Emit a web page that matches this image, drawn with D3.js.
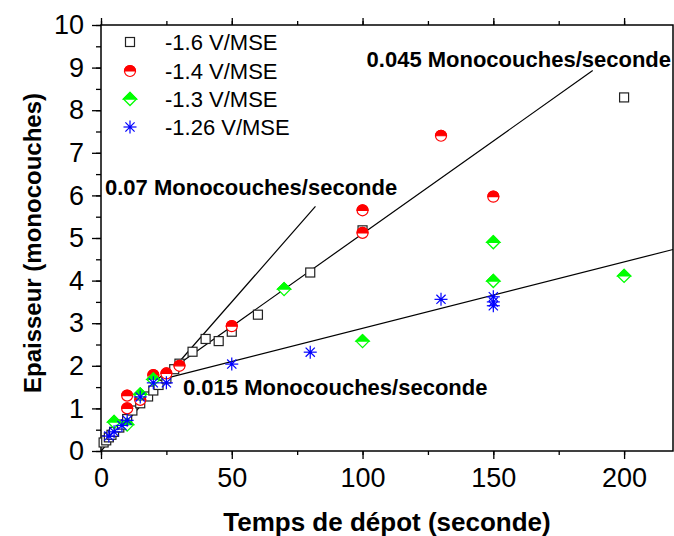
<!DOCTYPE html>
<html><head><meta charset="utf-8">
<script src="https://cdn.jsdelivr.net/npm/d3@7"></script>
<style>
html,body{margin:0;padding:0;background:#fff;}
svg{display:block;font-family:"Liberation Sans",Arial,sans-serif;}
</style></head>
<body>
<svg id="chart" width="674" height="536"></svg>
<script>
// ---- data ----
const xTicks = [0, 50, 100, 150, 200];
const yTicks = [0,1,2,3,4,5,6,7,8,9,10];

const s16x = [1, 2, 3, 4, 5, 7, 8, 10, 12, 15, 18, 20, 22, 25, 28, 30, 35, 40, 45, 50, 60, 80, 100, 200];
const s16y = [0.2, 0.25, 0.32, 0.38, 0.45, 0.55, 0.62, 0.75, 0.95, 1.12, 1.28, 1.42, 1.55, 1.7, 1.92, 2.05, 2.33, 2.63, 2.58, 2.8, 3.2, 4.19, 5.18, 8.3];

const s14x = [10, 10, 15, 20, 25, 30, 50, 100, 100, 130, 150];
const s14y = [1.0, 1.3, 1.2, 1.78, 1.82, 2.0, 2.93, 5.12, 5.65, 7.4, 5.97];

const s13x = [5, 10, 15, 20, 70, 100, 150, 150, 200];
const s13y = [0.68, 0.62, 1.33, 1.68, 3.8, 2.58, 4.9, 3.99, 4.11];

const s126x = [3, 5, 8, 10, 15, 20, 25, 50, 80, 130, 150, 150, 150];
const s126y = [0.35, 0.45, 0.6, 0.72, 1.27, 1.6, 1.6, 2.04, 2.32, 3.56, 3.62, 3.5, 3.41];

const seriesNames = ["-1.6 V/MSE", "-1.4 V/MSE", "-1.3 V/MSE", "-1.26 V/MSE"];

// fitted lines: [x0, y0, x1, y1]
const fit007 = [0, 0, 82, 5.74];
const fit0045 = [20, 1.62, 188, 8.93];
const fit0015 = [24.3, 1.70, 218.7, 4.73];
const fitLabels = ["0.07 Monocouches/seconde", "0.045 Monocouches/seconde", "0.015 Monocouches/seconde"];

// ---- chart ----
const svg = d3.select("#chart");
const x = d3.scaleLinear().domain([0, 218.7]).range([101, 673]);
const y = d3.scaleLinear().domain([0, 10]).range([451, 25]);

// frame
svg.append("rect").attr("x", x(0)).attr("y", y(10)).attr("width", x(218.7) - x(0)).attr("height", y(0) - y(10))
  .attr("fill", "none").attr("stroke", "#000").attr("stroke-width", 1.5);

// axes
function styleAxis(g){ g.select(".domain").remove(); g.selectAll("line").attr("stroke","#000").attr("stroke-width",1.3); }
const minorX = d3.range(0, 219, 25);
const minorY = d3.range(0, 10.01, 0.5);

const gxMinor = svg.append("g").attr("transform", `translate(0,${y(0)})`)
  .call(d3.axisBottom(x).tickValues(minorX).tickSize(4).tickFormat(""));
styleAxis(gxMinor);
const gx = svg.append("g").attr("transform", `translate(0,${y(0)})`)
  .call(d3.axisBottom(x).tickValues(xTicks).tickSize(8).tickPadding(9).tickFormat(d3.format("d")));
styleAxis(gx);
gx.selectAll("text").attr("font-size", 27).attr("fill", "#000").attr("font-family", "Liberation Sans, Arial, sans-serif");

const gxTop = svg.append("g").attr("transform", `translate(0,${y(10)})`)
  .call(d3.axisTop(x).tickValues(xTicks).tickSize(7).tickFormat(""));
styleAxis(gxTop);
const gxTopMinor = svg.append("g").attr("transform", `translate(0,${y(10)})`)
  .call(d3.axisTop(x).tickValues(minorX).tickSize(4).tickFormat(""));
styleAxis(gxTopMinor);

const gyMinor = svg.append("g").attr("transform", `translate(${x(0)},0)`)
  .call(d3.axisLeft(y).tickValues(minorY).tickSize(5).tickFormat(""));
styleAxis(gyMinor);
const gy = svg.append("g").attr("transform", `translate(${x(0)},0)`)
  .call(d3.axisLeft(y).tickValues(yTicks).tickSize(9).tickPadding(8).tickFormat(d3.format("d")));
styleAxis(gy);
gy.selectAll("text").attr("font-size", 27).attr("fill", "#000").attr("font-family", "Liberation Sans, Arial, sans-serif");

// axis titles
svg.append("text").attr("x", 387).attr("y", 531).attr("text-anchor", "middle")
  .attr("font-size", 26).attr("font-weight", "bold").text("Temps de dépot (seconde)");
svg.append("text").attr("transform", "translate(41,243) rotate(-90)").attr("text-anchor", "middle")
  .attr("font-size", 24).attr("font-weight", "bold").text("Epaisseur (monocouches)");

// fit lines
[fit007, fit0045, fit0015].forEach(f => {
  svg.append("line").attr("x1", x(f[0])).attr("y1", y(f[1])).attr("x2", x(f[2])).attr("y2", y(f[3]))
    .attr("stroke", "#000").attr("stroke-width", 1.2);
});

// annotations
svg.append("text").attr("x", 105).attr("y", 195).attr("font-size", 22).attr("font-weight", "bold").text(fitLabels[0]);
svg.append("text").attr("x", 671).attr("y", 67).attr("text-anchor", "end").attr("font-size", 22).attr("font-weight", "bold").text(fitLabels[1]);
svg.append("text").attr("x", 183).attr("y", 395).attr("font-size", 22).attr("font-weight", "bold").text(fitLabels[2]);

// markers
function square(g){ g.append("rect").attr("x",-4.5).attr("y",-4.5).attr("width",9).attr("height",9)
  .attr("fill","#fff").attr("stroke","#222").attr("stroke-width",1.2); }
function halfCircle(g){ const r=5.5;
  g.append("circle").attr("r",r).attr("fill","#fff").attr("stroke","#ff0000").attr("stroke-width",1.2);
  g.append("path").attr("d",`M${-r},0 A${r},${r} 0 0 1 ${r},0 Z`).attr("fill","#ff0000").attr("stroke","#ff0000").attr("stroke-width",1.2); }
function halfDiamond(g){ const h=6.5;
  g.append("path").attr("d",`M0,${-h} L${h},0 L0,${h} L${-h},0 Z`).attr("fill","#fff").attr("stroke","#00ff00").attr("stroke-width",1.3);
  g.append("path").attr("d",`M${-h},0 L0,${-h} L${h},0 Z`).attr("fill","#00ff00").attr("stroke","#00ff00").attr("stroke-width",1.3); }
function asterisk(g){ const r=6.5;
  [0,45,90,135].forEach(a=>{ const t=a*Math.PI/180;
    g.append("line").attr("x1",-r*Math.cos(t)).attr("y1",-r*Math.sin(t)).attr("x2",r*Math.cos(t)).attr("y2",r*Math.sin(t))
      .attr("stroke","#0000ff").attr("stroke-width",1.2); });
  g.append("circle").attr("r",1.6).attr("fill","#0000ff"); }

const seriesList = [[s16x, s16y, square], [s14x, s14y, halfCircle], [s13x, s13y, halfDiamond], [s126x, s126y, asterisk]];
seriesList.forEach(([xs, ys, fn]) => {
  const g = svg.append("g");
  xs.forEach((v, i) => { fn(g.append("g").attr("transform", `translate(${x(v)},${y(ys[i])})`)); });
});

// legend
const legY = [42, 71, 99, 127];
seriesList.forEach(([, , fn], i) => {
  fn(svg.append("g").attr("transform", `translate(130,${legY[i]})`));
  svg.append("text").attr("x", 165).attr("y", legY[i] + 8).attr("font-size", 22).text(seriesNames[i]);
});
</script>
</body></html>
